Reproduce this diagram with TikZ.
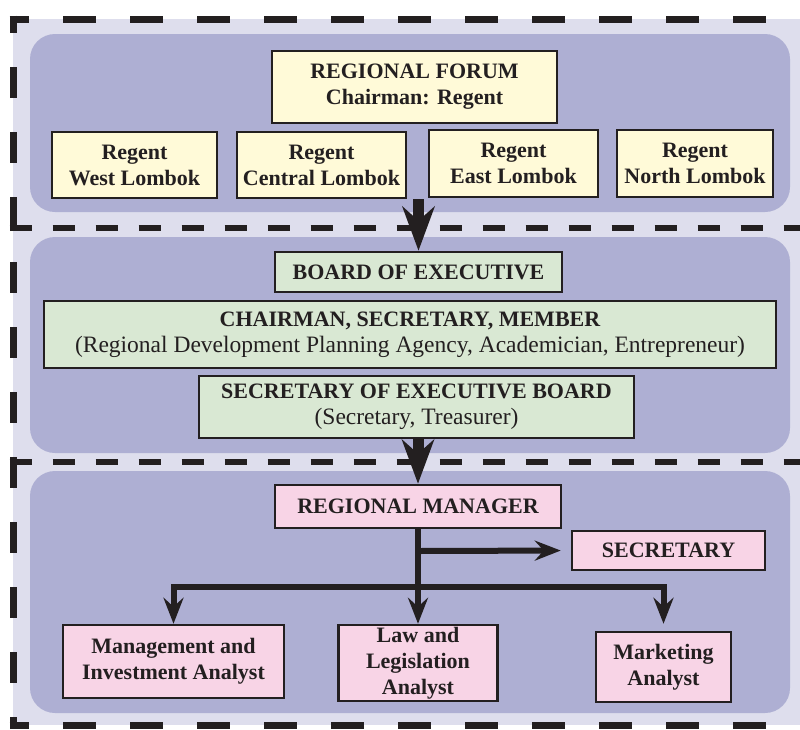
\documentclass[tikz,border=0pt]{standalone}
\usepackage{fontspec}
\setmainfont{Liberation Serif}
\usepackage{tikz}
\usetikzlibrary{arrows.meta}
\definecolor{inkline}{HTML}{231F20}
\definecolor{outerbg}{HTML}{DEDEED}
\definecolor{panelbg}{HTML}{AEAFD3}
\definecolor{forumfill}{HTML}{FFFAD8}
\definecolor{boardfill}{HTML}{D9E8D3}
\definecolor{stafffill}{HTML}{F8D4E6}
\newcommand{\plainline}{\mdseries\fontsize{23.5}{26}\selectfont}

\begin{document}
\begin{tikzpicture}[x=1pt,y=-1pt,font=\fontsize{22}{26}\selectfont\bfseries,
  box/.style={draw=inkline,text=inkline,line width=2.5pt,inner sep=0pt,align=center},
  forumbox/.style={box,fill=forumfill},
  boardbox/.style={box,fill=boardfill},
  staffbox/.style={box,fill=stafffill},
  bigarrow/.style={draw=inkline,line width=11pt,-{Stealth[length=44pt,width=32pt,inset=14pt]}},
  link/.style={draw=inkline,line width=6pt,line join=miter},
  arrow/.style={link,-{Stealth[length=26pt,width=20pt,inset=9pt]}},
  border/.style={draw=inkline,line width=7pt},
  divider/.style={draw=inkline,line width=6pt,dash pattern=on 22pt off 21pt}]
\useasboundingbox (0,0) rectangle (800,729);
\fill[outerbg] (13,19) rectangle (800,725);
\fill[panelbg,rounded corners=25pt] (30,34) rectangle (790,212);
\fill[panelbg,rounded corners=25pt] (30,237) rectangle (790,453);
\fill[panelbg,rounded corners=25pt] (30,471) rectangle (790,713);
\draw[border,dash pattern=on 33pt off 34pt,dash phase=13.5pt] (9.5,19) -- (800,19);
\draw[border,dash pattern=on 33pt off 34pt,dash phase=13.5pt] (9.5,725) -- (800,725);
\draw[border,dash pattern=on 31pt off 34pt,dash phase=13.5pt] (13,15.5) -- (13,725);
\draw[divider] (9.5,228) -- (800,228);
\draw[divider] (9.5,462) -- (800,462);

\node[forumbox,minimum width=285pt,minimum height=72pt] (forum) at (414.5,87) {REGIONAL FORUM\\Chairman: Regent};
\node[forumbox,minimum width=165pt,minimum height=66pt] (west) at (134.5,165) {Regent\\West Lombok};
\node[forumbox,minimum width=169pt,minimum height=66pt] (central) at (321.5,165) {Regent\\Central Lombok};
\node[forumbox,minimum width=169pt,minimum height=67pt] (east) at (513.5,163.5) {Regent\\East Lombok};
\node[forumbox,minimum width=156pt,minimum height=67pt] (north) at (695,163.5) {Regent\\North Lombok};
\coordinate (forumout) at (418.5,199);

\node[boardbox,minimum width=287pt,minimum height=40pt] (board) at (418.5,272) {BOARD OF EXECUTIVE};
\node[boardbox,minimum width=732pt,minimum height=67pt] (members) at (410,334.5) {CHAIRMAN, SECRETARY, MEMBER\\\plainline(Regional Development Planning Agency, Academician, Entrepreneur)};
\node[boardbox,minimum width=435pt,minimum height=62pt] (secboard) at (416.5,407) {SECRETARY OF EXECUTIVE BOARD\\\plainline(Secretary, Treasurer)};

\node[staffbox,minimum width=286pt,minimum height=43pt] (manager) at (418,506.5) {REGIONAL MANAGER};
\node[staffbox,minimum width=193pt,minimum height=39pt] (secretary) at (668.5,550.5) {SECRETARY};
\node[staffbox,minimum width=221pt,minimum height=73pt] (mgmt) at (173.5,661.5) {Management and\\Investment Analyst};
\node[staffbox,minimum width=159pt,minimum height=76pt] (law) at (418,663) {Law and\\Legislation\\Analyst};
\node[staffbox,minimum width=135pt,minimum height=70pt] (mkt) at (663.5,667) {Marketing\\Analyst};
\coordinate (secsplit) at (418,551);
\coordinate (split) at (418,587);

\draw[bigarrow] (forumout) -- (board.north);
\draw[bigarrow] (secboard.south -| manager) -- (manager.north);
\draw[arrow] (manager.south) -- (law.north);
\draw[arrow,shorten >=10pt] (secsplit) -- (secretary.west);
\draw[arrow] (split) -| (mgmt.north);
\draw[arrow,shorten >=7pt] (split) -| (mkt.north);
\end{tikzpicture}
\end{document}
